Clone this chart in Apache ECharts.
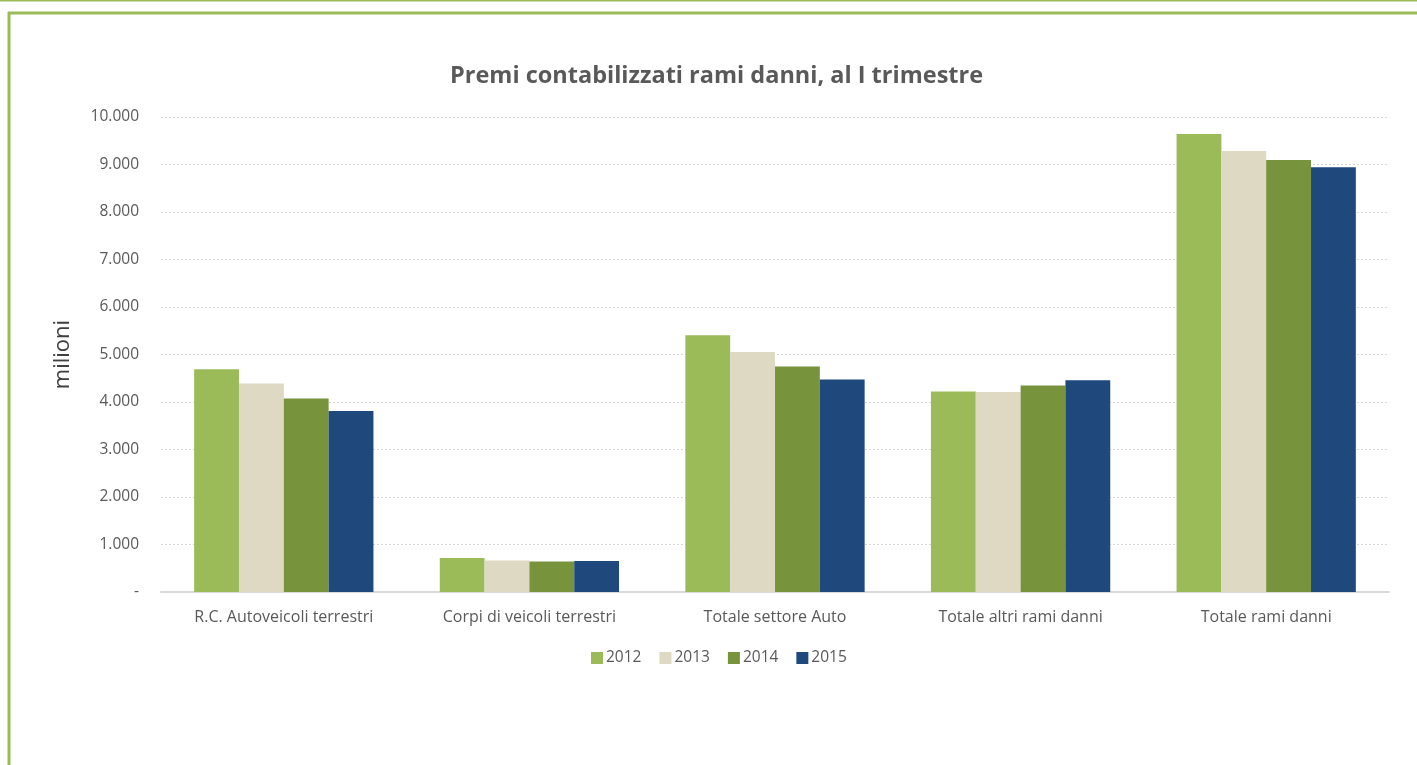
<!DOCTYPE html>
<html>
<head>
<meta charset="utf-8">
<script src="https://cdn.jsdelivr.net/npm/echarts@6/dist/echarts.min.js"></script>
<style>
  html, body { margin: 0; padding: 0; background: #fff; }
  #chart { width: 1417px; height: 765px; }
</style>
</head>
<body>
<div id="chart"></div>
<script>
// dati
var categorie = ['R.C. Autoveicoli terrestri', 'Corpi di veicoli terrestri', 'Totale settore Auto', 'Totale altri rami danni', 'Totale rami danni'];
var anni = ['2012', '2013', '2014', '2015'];
var v2012 = [4688, 714, 5405, 4223, 9643];
var v2013 = [4391, 664, 5055, 4208, 9286];
var v2014 = [4076, 643, 4748, 4349, 9097];
var v2015 = [3809, 651, 4475, 4460, 8941];
var colori = ['#9BBB59', '#DDD9C3', '#77933C', '#1F497D'];

(function() {
    var chart = echarts.init(document.getElementById('chart'));
    var valori = [v2012, v2013, v2014, v2015];
    var font = '"Open Sans", "Liberation Sans", sans-serif';

    function migliaia(v) {
        if (v === 0) return '-';
        return String(v).replace(/\B(?=(\d{3})+(?!\d))/g, '.');
    }

    var series = anni.map(function(a, i) {
        return {
            name: a,
            type: 'bar',
            data: valori[i],
            barGap: '0%',
            barCategoryGap: '27%',
            itemStyle: { color: colori[i] }
        };
    });

    var option = {
        animation: false,
        color: colori,
        textStyle: { fontFamily: font },
        title: {
            text: 'Premi contabilizzati rami danni, al I trimestre',
            left: 445,
            top: 59,
            textStyle: { fontSize: 23.5, fontWeight: 'bold', color: '#595959', fontFamily: font }
        },
        legend: {
            data: anni,
            bottom: 94,
            left: 586,
            itemWidth: 12,
            itemHeight: 12,
            itemGap: 18,
            icon: 'rect',
            textStyle: { fontSize: 15.5, color: '#595959', padding: [0, 0, 0, -2] }
        },
        grid: { left: 161, right: 28, top: 117, bottom: 173 },
        xAxis: {
            type: 'category',
            data: categorie,
            axisLine: { lineStyle: { color: '#d9d9d9', width: 2 } },
            axisTick: { show: false },
            axisLabel: { fontSize: 16, color: '#595959', margin: 17 }
        },
        yAxis: {
            type: 'value',
            min: 0,
            max: 10000,
            interval: 1000,
            name: 'milioni',
            nameLocation: 'middle',
            nameGap: 87,
            nameRotate: 90,
            nameTextStyle: { fontSize: 22, color: '#404040' },
            axisLine: { show: false },
            axisTick: { show: false },
            axisLabel: { fontSize: 15.5, color: '#595959', margin: 22, formatter: migliaia },
            splitLine: { lineStyle: { color: '#d6d6d6', type: [2, 2], width: 1 } }
        },
        graphic: [
            { type: 'line', shape: { x1: 0, y1: 0.5, x2: 1417, y2: 0.5 }, style: { stroke: '#9BBB59', lineWidth: 2 } },
            { type: 'line', shape: { x1: 8, y1: 13, x2: 1417, y2: 13 }, style: { stroke: '#9BBB59', lineWidth: 3 } },
            { type: 'line', shape: { x1: 9, y1: 12, x2: 9, y2: 765 }, style: { stroke: '#9BBB59', lineWidth: 3 } }
        ],
        series: series
    };

    chart.setOption(option);
    window.addEventListener('resize', function() {
        chart.resize();
    });
})();
</script>
</body>
</html>
